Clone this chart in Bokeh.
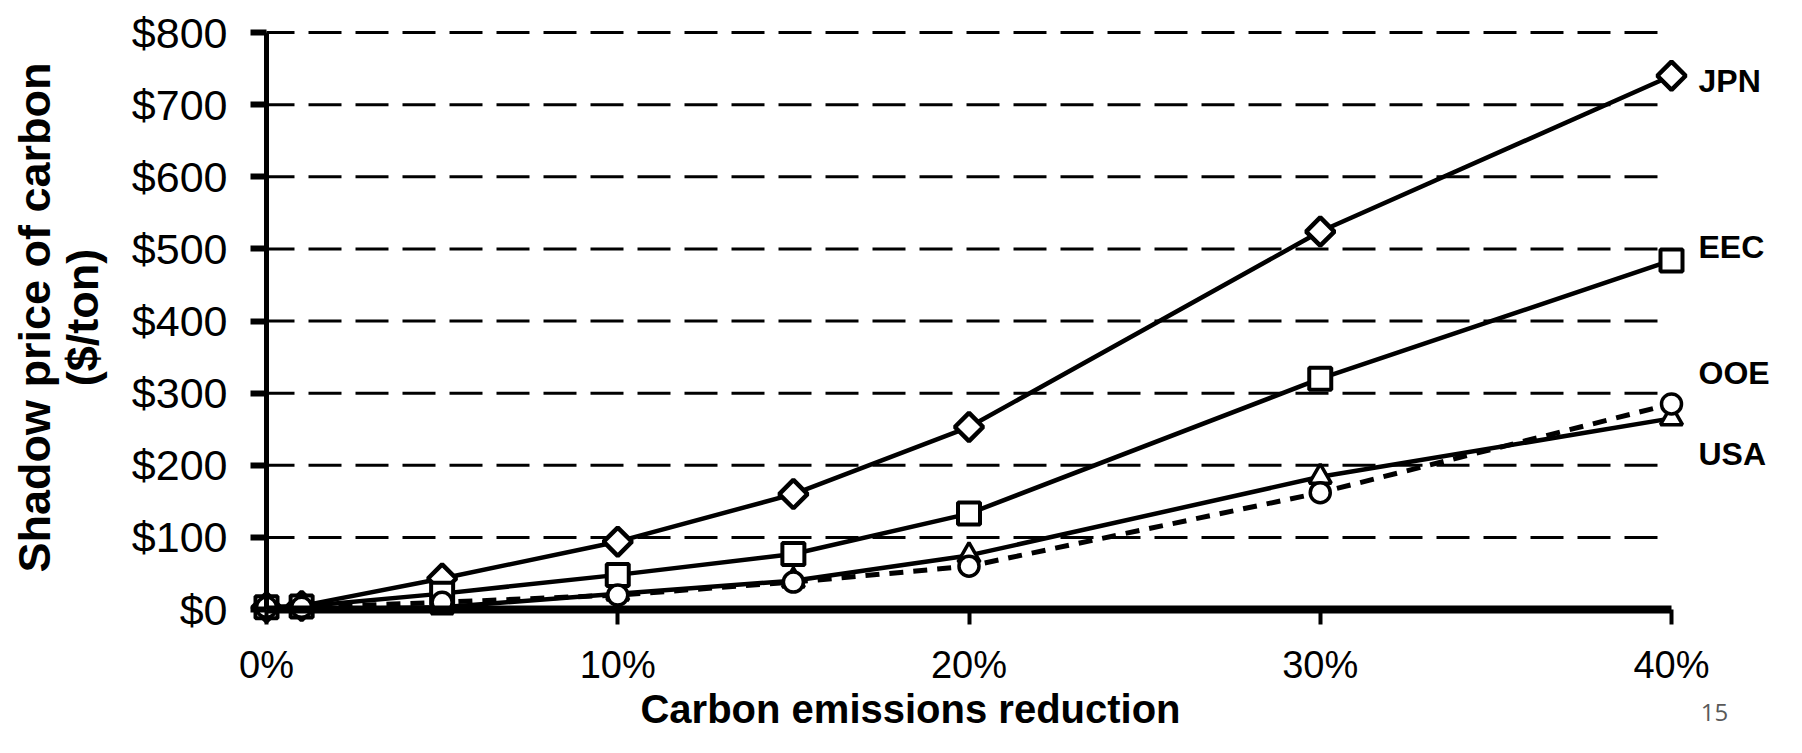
import math
from bokeh.plotting import figure
from bokeh.models import FixedTicker, Range1d, Label
from bokeh.core.properties import value
from bokeh.embed import file_html
from bokeh.resources import INLINE

# ---- data ----
reduction = [0, 1, 5, 10, 15, 20, 30, 40]          # % carbon emissions reduction
jpn = [3, 5, 43, 94, 160, 253, 524, 740]
eec = [3, 4, 22, 48, 77, 133, 320, 484]
ooe = [3, 3, 10, 20, 38, 60, 162, 285]
usa = [0, 0, 3, 22, 40, 75, 184, 265]
series_names = ["JPN", "EEC", "OOE", "USA"]

x_ticks = [0, 10, 20, 30, 40]
x_tick_labels = ["0%", "10%", "20%", "30%", "40%"]
y_ticks = [0, 100, 200, 300, 400, 500, 600, 700, 800]
y_tick_labels = ["$0", "$100", "$200", "$300", "$400", "$500", "$600", "$700", "$800"]

x_title = "Carbon emissions reduction"
y_title_lines = ["Shadow price of carbon", "($/ton)"]
page_number = "15"

# ---- layout / styling ----
FONT = "Liberation Sans"
W, H = 1786, 737
PX_X0, PX_X40 = 266, 1671      # canvas x of 0% and 40%
PX_Y0, PX_Y800 = 609, 32       # canvas y of $0 and $800
kx = (PX_X40 - PX_X0) / (x_ticks[-1] - x_ticks[0])
ky = (PX_Y0 - PX_Y800) / (y_ticks[-1] - y_ticks[0])


def dx(px):
    return x_ticks[0] + (px - PX_X0) / kx


def dy(py):
    return y_ticks[0] + (PX_Y0 - py) / ky


label_y = {"JPN": 733, "EEC": 502, "OOE": 328, "USA": 216}
y_title_px = [34, 82]          # canvas x of the two y-title lines
y_title_cy = 317               # canvas y of their centres

p = figure(width=W, height=H,
           x_range=Range1d(dx(0), dx(W)), y_range=Range1d(dy(H), dy(0)),
           output_backend="svg", toolbar_location=None,
           min_border_left=0, min_border_right=0,
           min_border_top=0, min_border_bottom=0)
p.outline_line_color = None
p.xgrid.visible = False
p.ygrid.visible = False
p.background_fill_color = "white"
p.border_fill_color = "white"

# dashed horizontal gridlines from 0% to 40%
gy = y_ticks[1:]
p.segment(x0=[x_ticks[0]] * len(gy), y0=gy, x1=[x_ticks[-1]] * len(gy), y1=gy,
          line_color="black", line_width=3, line_dash="33 14", line_dash_offset=5)

# series lines
p.line(reduction, jpn, line_color="black", line_width=4.5)
p.line(reduction, eec, line_color="black", line_width=4.5)
p.line(reduction, usa, line_color="black", line_width=4.5)
p.line(reduction, ooe, line_color="black", line_width=5, line_dash="14 10")

# markers (drawing order as seen where they overlap)
p.scatter(reduction, usa, marker="triangle", size=22, line_color="black",
          line_width=3.5, fill_color="white")
p.scatter(reduction, jpn, marker="square", angle=math.pi / 4, size=20,
          line_color="black", line_width=4.5, fill_color="white")
p.scatter(reduction, eec, marker="square", size=22, line_color="black",
          line_width=4, fill_color="white")
p.scatter(reduction, ooe, marker="circle", size=20, line_color="black",
          line_width=3.5, fill_color="white")

# axes (drawn at 0% and $0)
for ax in (p.xaxis, p.yaxis):
    ax.fixed_location = 0
    ax.axis_line_color = "black"
    ax.minor_tick_line_color = None
    ax.major_tick_line_color = "black"
    ax.major_tick_in = 0
    ax.major_label_text_font = FONT
    ax.major_label_text_color = "black"

p.xaxis.bounds = (x_ticks[0], x_ticks[-1])
p.xaxis.axis_line_width = 8
p.xaxis.ticker = FixedTicker(ticks=x_ticks)
p.xaxis.major_label_overrides = {t: s for t, s in zip(x_ticks, x_tick_labels)}
p.xaxis.major_label_text_font_size = "38px"
p.xaxis.major_tick_out = 15
p.xaxis.major_tick_line_width = 4
p.xaxis.major_label_standoff = 19

p.yaxis.bounds = (y_ticks[0], y_ticks[-1])
p.yaxis.axis_line_width = 5
p.yaxis.ticker = FixedTicker(ticks=y_ticks)
p.yaxis.major_label_overrides = {t: s for t, s in zip(y_ticks, y_tick_labels)}
p.yaxis.major_label_text_font_size = "43px"
p.yaxis.major_tick_out = 16
p.yaxis.major_tick_line_width = 6
p.yaxis.major_label_standoff = 23

# y axis title, two rotated lines
p.text(x=[dx(px) for px in y_title_px], y=[dy(y_title_cy)] * len(y_title_lines),
       text=y_title_lines, angle=math.pi / 2, text_font=value(FONT),
       text_font_style="bold", text_font_size="45px", text_color="black",
       text_align="center", text_baseline="middle")

# x axis title (sits left of centre in the original)
p.text(x=[dx(910)], y=[dy(708)], text=[x_title], text_font=value(FONT),
       text_font_style="bold", text_font_size="40px", text_color="black",
       text_align="center", text_baseline="middle")

# series name labels at right
for name in series_names:
    p.add_layout(Label(x=x_ticks[-1], y=label_y[name], x_offset=27, text=name,
                       text_font=FONT, text_font_style="bold", text_font_size="32px",
                       text_color="black", text_baseline="middle", text_align="left"))

# slide page number
p.add_layout(Label(x=dx(1714), y=dy(712), text=page_number, text_font="Open Sans",
                   text_font_size="24px", text_color="#595959",
                   text_align="center", text_baseline="middle"))

open("out.html", "w").write(file_html(p, INLINE))
